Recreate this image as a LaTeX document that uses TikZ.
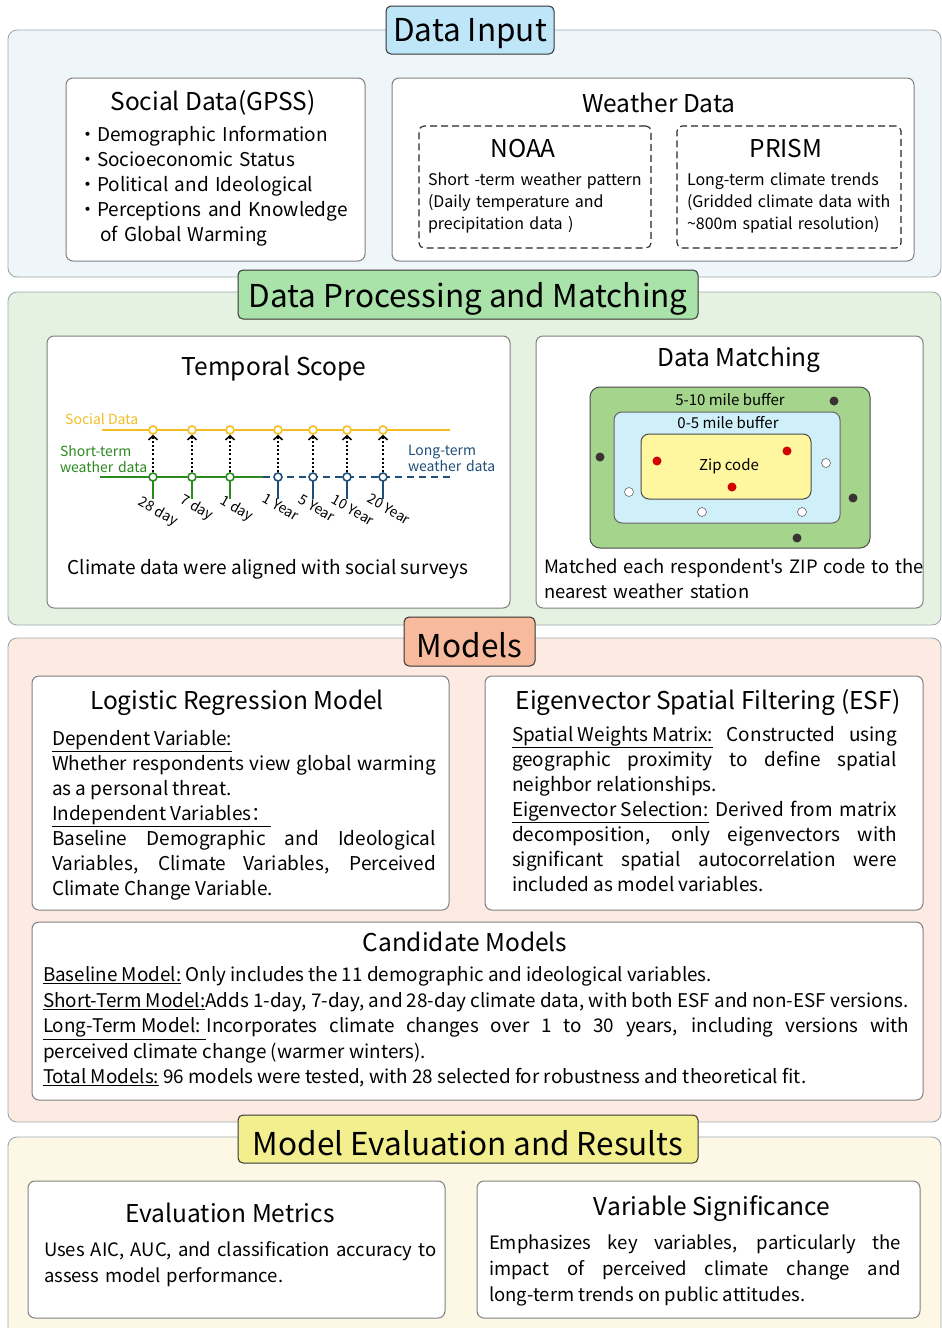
\documentclass[tikz,border=0pt]{standalone}
\usepackage{fontspec}
\setmainfont{Noto Sans CJK SC}[Ligatures=TeXOff]
\usetikzlibrary{arrows.meta}
\newcommand\ulx[1]{\underline{#1}}
\newcommand\lowr[1]{\raisebox{-4pt}[\height][\depth]{#1}}
\definecolor{pborder}{HTML}{9FA9AF}
\definecolor{cborder}{HTML}{808080}
\definecolor{cAbg}{HTML}{EEF6F9}
\definecolor{cAt}{HTML}{BEE5F8}
\definecolor{cBbg}{HTML}{E6F2E1}
\definecolor{cBt}{HTML}{A9E3A9}
\definecolor{cCbg}{HTML}{FCEAE3}
\definecolor{cCt}{HTML}{F8BA9C}
\definecolor{cDbg}{HTML}{FDF8E5}
\definecolor{cDt}{HTML}{F3EF8E}
\definecolor{tyel}{HTML}{F2BE22}
\definecolor{tgrn}{HTML}{2A8A1E}
\definecolor{tnav}{HTML}{1F4E79}
\definecolor{mgrn}{HTML}{A5D58D}
\definecolor{mcya}{HTML}{CFF0F8}
\definecolor{myel}{HTML}{FFF6A0}
\definecolor{mred}{HTML}{D20000}
\definecolor{mdrk}{HTML}{3B3333}
\newcommand\fsec{\fontsize{31.5}{36}\selectfont}
\newcommand\fhead{\fontsize{24.5}{29}\selectfont}
\newcommand\fbody{\fontsize{19}{25}\selectfont}
\newcommand\fmtx{\fontsize{18.4}{25}\selectfont}
\newcommand\fcand{\fontsize{18.85}{25.5}\selectfont}
\newcommand\fevl{\fontsize{18.5}{26}\selectfont}
\newcommand\fsmall{\fontsize{16}{22}\selectfont}
\newcommand\ftiny{\fontsize{14}{14.5}\selectfont}
\newcommand\fmatch{\fontsize{15}{18}\selectfont}
\newcommand\mkbox[7]{\node[#2,anchor=north west,inner sep=0pt,outer sep=0pt,minimum width={(#5-#3)*1pt},minimum height={(#6-#4)*1pt}] (#1) at (#3,#4) {#7};}
\tikzset{
 panel/.style={draw=pborder, line width=0.9pt, rounded corners=9pt},
 ttl/.style={draw=black!80, line width=1pt, rounded corners=5pt, font=\fsec},
 card/.style={draw=cborder, fill=white, line width=1pt, rounded corners=7pt},
 dbox/.style={draw=black!85, line width=1.1pt, dash pattern=on 7pt off 4pt, rounded corners=5pt},
 para/.style={anchor=north west, inner sep=0pt, outer sep=0pt, align=justify},
 lpara/.style={anchor=north west, inner sep=0pt, outer sep=0pt, align=left},
 lbl/.style={inner sep=0pt},
 ring/.style={circle, fill=white, line width=1.6pt, minimum size=8pt, inner sep=0pt},
 mdot/.style={circle, minimum size=9pt, inner sep=0pt},
 darr/.style={line width=2pt, dash pattern=on 2pt off 2.2pt, -{Straight Barb[length=4pt,width=9pt,line width=1.6pt]}},
}
\begin{document}
\begin{tikzpicture}[x=1pt,y=-1pt]
\useasboundingbox (0,0) rectangle (942,1328);
% panels
\mkbox{pA}{panel,fill=cAbg}{8}{30}{941}{277}{}
\mkbox{pB}{panel,fill=cBbg}{8}{292}{941}{625}{}
\mkbox{pC}{panel,fill=cCbg}{8}{638}{941}{1122}{}
\mkbox{pD}{panel,fill=cDbg}{8}{1137}{941}{1345}{}
% section titles
\mkbox{tA}{ttl,fill=cAt}{386}{6}{554}{54}{\lowr{Data Input}}
\mkbox{tB}{ttl,fill=cBt}{238}{270}{698}{319}{\lowr{Data Processing and Matching}}
\mkbox{tC}{ttl,fill=cCt}{404}{617}{535}{666}{\lowr{Models}}
\mkbox{tD}{ttl,fill=cDt}{238}{1115}{698}{1163}{\lowr{Model Evaluation and Results}}
% ---------- Data input
\mkbox{social}{card}{66}{78}{365}{261}{}
\mkbox{weather}{card}{392}{78}{914}{261}{}
\mkbox{noaa}{dbox}{419}{126}{651}{248}{}
\mkbox{prism}{dbox}{677}{126}{901}{248}{}
\node[lbl,font=\fhead] (socialt) at (213,103) {Social Data(GPSS)};
\node[lbl,font=\fhead] (weathert) at (659,103) {Weather Data};
\node[lbl,font=\fhead] (noaat) at (523,149) {NOAA};
\node[lbl,font=\fhead] (prismt) at (786,149) {PRISM};
\node[lpara,text width=280pt,font=\fbody] (socialx) at (78,124) {\noindent\strut\makebox[19pt][l]{•}Demographic Information\\\makebox[19pt][l]{•}Socioeconomic Status\\\makebox[19pt][l]{•}Political and Ideological\\\makebox[19pt][l]{•}Perceptions and Knowledge\\\hspace*{22pt}of Global Warming};
\node[lpara,text width=225pt,font=\fsmall] (noaax) at (428,170) {\noindent\strut Short -term weather pattern\\(Daily temperature and\\precipitation data )};
\node[lpara,text width=215pt,font=\fsmall] (prismx) at (687,170) {\noindent\strut Long-term climate trends\\(Gridded climate data with\\\textasciitilde800m spatial resolution)};
% ---------- Data processing
\mkbox{temporal}{card}{47}{336}{510}{608}{}
\mkbox{matching}{card}{536}{336}{923}{608}{}
\node[lbl,font=\fhead] (tempt) at (274,369) {Temporal Scope};
\node[lbl,font=\fhead] (matcht) at (739,360) {Data Matching};
\node[lbl,font=\fbody] (tempx) at (268,569) {Climate data were aligned with social surveys};
\node[lpara,text width=395pt,font=\fmtx] (matchx) at (544,556) {\noindent\strut Matched each respondent's ZIP code to the\\nearest weather station};
% temporal diagram
\coordinate (ys) at (102,430); \coordinate (ye) at (450,430);
\coordinate (gs) at (100,477); \coordinate (gm) at (263,477); \coordinate (ge) at (450,477);
\draw[tyel,line width=2.4pt] (ys) -- (ye);
\draw[tgrn,line width=2.4pt] (gs) -- (gm);
\draw[tnav,line width=2.2pt,dash pattern=on 7pt off 5pt] (gm) -- (ge);
\foreach \i/\x/\c/\t/\lx/\ly in {1/153/tgrn/28 day/158/512,2/192/tgrn/7 day/197/508,3/230/tgrn/1 day/237/509,4/278/tnav/1 Year/281/507,5/313/tnav/5 Year/317/508,6/347/tnav/10 Year/353/510,7/383/tnav/20 Year/389/509}{
  \node[ring,draw=tyel] (u\i) at (\x,430) {};
  \coordinate (t\i) at (\x,499);
  \draw[\c,line width=2.4pt] (\x,481) -- (t\i);
  \node[ring,draw=\c] (l\i) at (\x,477) {};
  \draw[darr] (l\i.north) -- (u\i.south);
  \node[lbl,font=\ftiny,rotate=-30] (lab\i) at (\lx,\ly) {\t};
}
\node[lbl,font=\ftiny,text=tyel,anchor=west] (sdl) at (65,419) {Social Data};
\node[lpara,font=\ftiny,text=tgrn,text width=100pt] (stl) at (60,445) {\noindent\strut Short-term\\weather data};
\node[lpara,font=\ftiny,text=tnav,text width=100pt] (ltl) at (408,445) {\noindent\strut Long-term\\weather data};
% matching diagram
\mkbox{buf10}{draw=black!70,line width=1pt,fill=mgrn,rounded corners=10pt}{590}{387}{870}{548}{}
\mkbox{buf5}{draw=black!60,line width=1pt,fill=mcya,rounded corners=8pt}{614}{412}{840}{523}{}
\mkbox{zip}{draw=black!70,line width=1pt,fill=myel,rounded corners=8pt}{641}{434}{811}{499}{}
\node[lbl,font=\fmatch] (b10t) at (730,400) {5-10 mile buffer};
\node[lbl,font=\fmatch] (b5t) at (728,423) {0-5 mile buffer};
\node[lbl,font=\fmatch] (zipt) at (729,466) {Zip code};
\foreach \n/\x/\y in {r1/657/461,r2/787/451,r3/732/487}{\node[mdot,fill=mred] (\n) at (\x,\y) {};}
\foreach \n/\x/\y in {w1/826/463,w2/629/492,w3/702/512,w4/802/512}{\node[mdot,fill=white,draw=black!60,line width=0.6pt] (\n) at (\x,\y) {};}
\foreach \n/\x/\y in {k1/834/401,k2/600/457,k3/853/498,k4/797/538}{\node[mdot,fill=mdrk] (\n) at (\x,\y) {};}
% ---------- Models
\mkbox{logit}{card}{32}{676}{449}{910}{}
\mkbox{esf}{card}{485}{676}{923}{910}{}
\mkbox{cand}{card}{32}{922}{923}{1100}{}
\node[lbl,font=\fhead] (logitt) at (237,703) {Logistic Regression Model};
\node[lbl,font=\fhead] (esft) at (708,703) {Eigenvector Spatial Filtering (ESF)};
\node[lbl,font=\fhead] (candt) at (465,942) {Candidate Models};
\node[para,text width=384pt,font=\fbody] (logitx) at (52,728) {\noindent\strut\ulx{Dependent Variable:}\newline Whether respondents view global warming\linebreak as a personal threat.\newline \ulx{Independent Variables：}\newline Baseline Demographic and Ideological\linebreak Variables, Climate Variables, Perceived\linebreak Climate Change Variable.};
\node[para,text width=385pt,font=\fbody] (esfx) at (512,724) {\noindent\strut\ulx{Spatial Weights Matrix:} Constructed using\linebreak geographic proximity to define spatial\linebreak neighbor relationships.\newline \ulx{Eigenvector Selection:} Derived from matrix\linebreak decomposition, only eigenvectors with\linebreak significant spatial autocorrelation were\linebreak included as model variables.};
\node[para,text width=866pt,font=\fcand] (candx) at (43,964) {\noindent\strut\ulx{Baseline Model:} Only includes the 11 demographic and ideological variables.\newline \ulx{Short-Term Model:}Adds 1-day, 7-day, and 28-day climate data, with both ESF and non-ESF versions.\newline \ulx{Long-Term Model: }Incorporates climate changes over 1 to 30 years, including versions with\linebreak perceived climate change (warmer winters).\newline \ulx{Total Models:} 96 models were tested, with 28 selected for robustness and theoretical fit.};
% ---------- Evaluation
\mkbox{evalm}{card}{28}{1181}{445}{1318}{}
\mkbox{varsig}{card}{477}{1181}{920}{1318}{}
\node[lbl,font=\fhead] (evalt) at (230,1213) {Evaluation Metrics};
\node[lbl,font=\fhead] (varsigt) at (712,1209) {Variable Significance};
\node[lpara,text width=400pt,font=\fevl] (evalx) at (44,1238) {\noindent\strut Uses AIC, AUC, and classification accuracy to\\assess model performance.};
\node[para,text width=412pt,font=\fevl] (varsigx) at (489,1231) {\noindent\strut Emphasizes key variables, particularly the\linebreak impact of perceived climate change and\linebreak long-term trends on public attitudes.};
\end{tikzpicture}
\end{document}
